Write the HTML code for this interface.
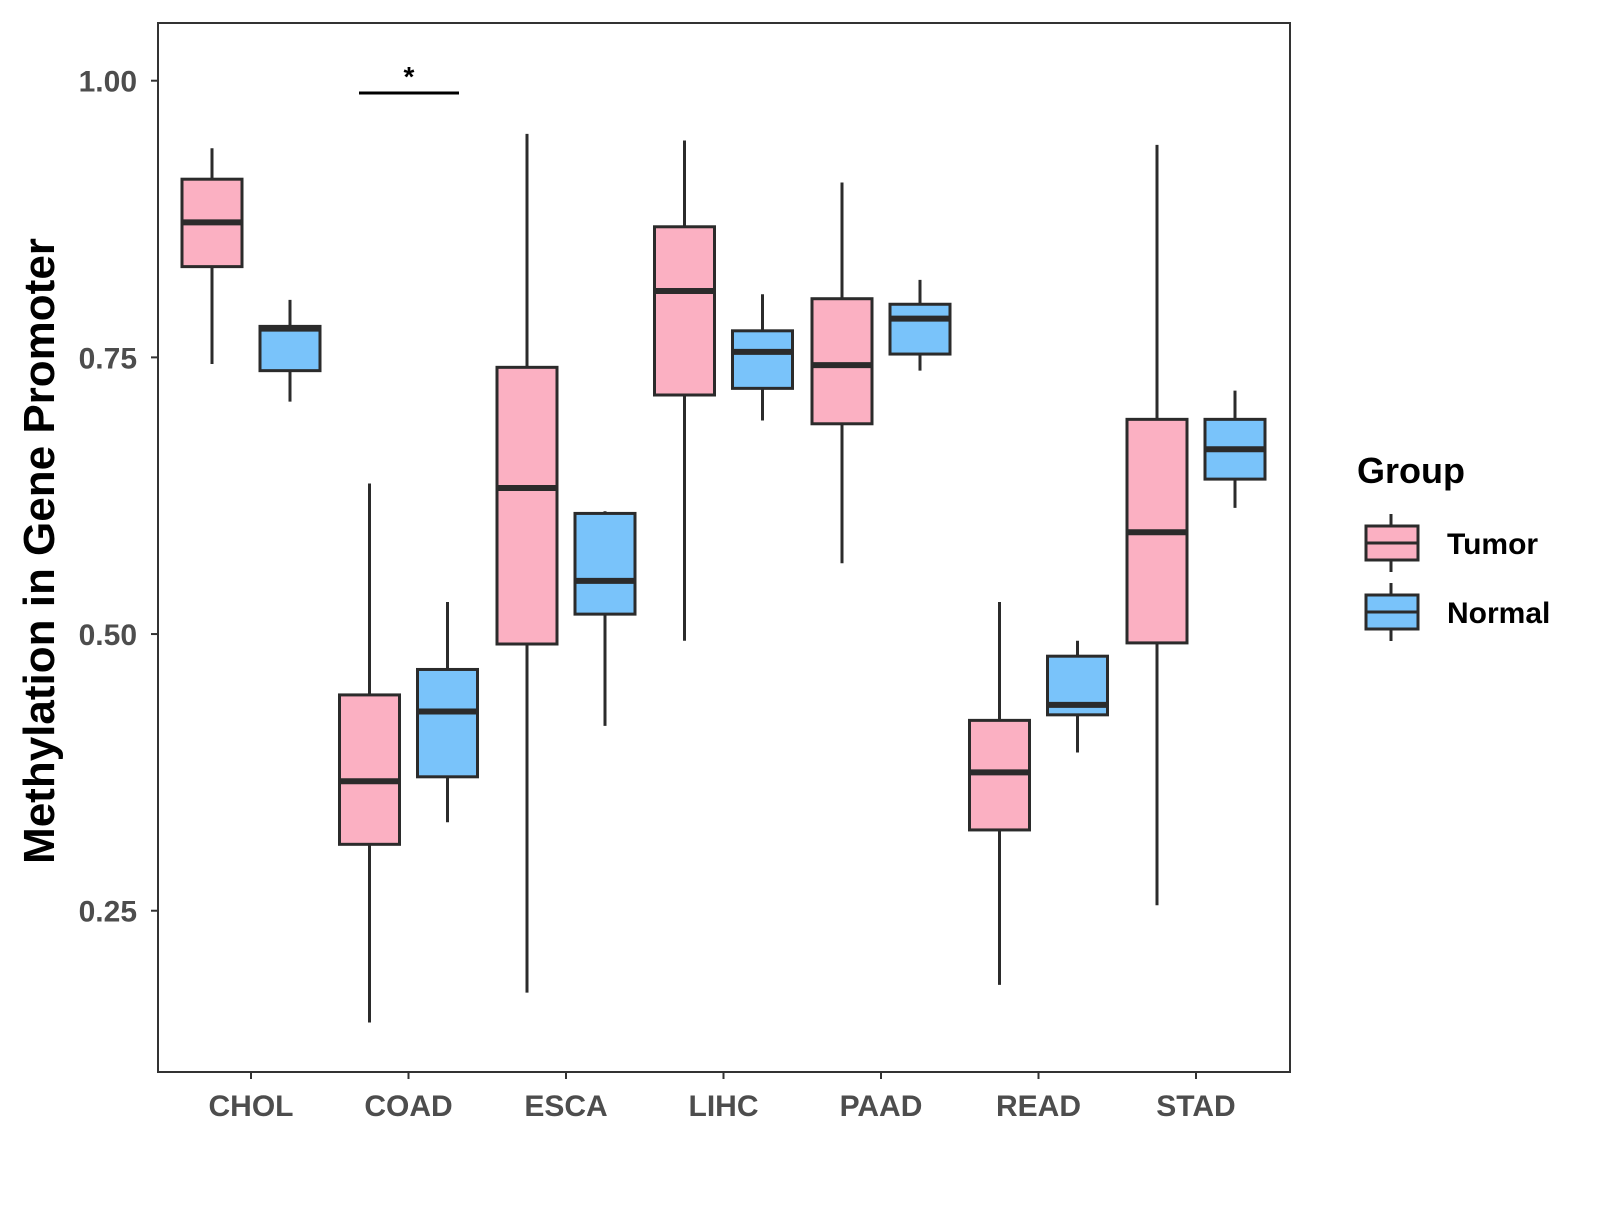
<!DOCTYPE html>
<html><head><meta charset="utf-8"><style>
body{margin:0;background:#fff}
text{font-family:"Liberation Sans",Arial,sans-serif;font-weight:bold}
</style></head><body>
<svg id="chart" width="1600" height="1200" xmlns="http://www.w3.org/2000/svg">
<rect x="0" y="0" width="1600" height="1200" fill="#fff"/>
<g id="plot"></g>
<rect x="158" y="23" width="1132" height="1049" fill="none" stroke="#333" stroke-width="2"/>
<text transform="translate(54,551) rotate(-90)" text-anchor="middle" font-size="44" fill="#000">Methylation in Gene Promoter</text>
<g>
<line x1="359" y1="93" x2="459" y2="93" stroke="#000" stroke-width="3"/>
<text x="409" y="86" text-anchor="middle" font-size="28" fill="#000">*</text>
</g>
<g>
<text x="1357" y="483" font-size="36" fill="#000">Group</text>
<g>
<line x1="1391" y1="514" x2="1391" y2="572" stroke="#2b2b2b" stroke-width="3"/>
<rect x="1366" y="526" width="52" height="34" fill="#fbb0c2" stroke="#2b2b2b" stroke-width="3"/>
<line x1="1366" y1="543" x2="1418" y2="543" stroke="#2b2b2b" stroke-width="3"/>
<text x="1447" y="554" font-size="30" fill="#000">Tumor</text>
</g>
<g>
<line x1="1391" y1="583" x2="1391" y2="641" stroke="#2b2b2b" stroke-width="3"/>
<rect x="1366" y="595" width="52" height="34" fill="#79c3fa" stroke="#2b2b2b" stroke-width="3"/>
<line x1="1366" y1="612" x2="1418" y2="612" stroke="#2b2b2b" stroke-width="3"/>
<text x="1447" y="623" font-size="30" fill="#000">Normal</text>
</g>
</g>
</svg>
<script>
const categories = ["CHOL","COAD","ESCA","LIHC","PAAD","READ","STAD"];
const groups = ["Tumor","Normal"];
// [low, q1, median, q3, high] per category
const tumorStats = [
 [0.744,0.832,0.872,0.911,0.939],
 [0.149,0.310,0.367,0.445,0.636],
 [0.176,0.491,0.632,0.741,0.952],
 [0.494,0.716,0.810,0.868,0.946],
 [0.564,0.690,0.743,0.803,0.908],
 [0.183,0.323,0.375,0.422,0.529],
 [0.255,0.492,0.592,0.694,0.942]
];
const normalStats = [
 [0.710,0.738,0.776,0.778,0.802],
 [0.330,0.371,0.430,0.468,0.529],
 [0.417,0.518,0.548,0.609,0.611],
 [0.693,0.722,0.755,0.774,0.807],
 [0.738,0.753,0.785,0.798,0.820],
 [0.393,0.427,0.436,0.480,0.494],
 [0.614,0.640,0.667,0.694,0.720]
];
const yTicks = [0.25,0.50,0.75,1.00];
const yTickLabels = ["0.25","0.50","0.75","1.00"];

const NS="http://www.w3.org/2000/svg";
const g=document.getElementById('plot');
function yScale(v){return 80.7+(1-v)*1106.7;}
function xScale(i){return 251+i*157.5;}
function mk(tag,attrs){const e=document.createElementNS(NS,tag);for(const k in attrs)e.setAttribute(k,attrs[k]);g.appendChild(e);return e;}

yTicks.forEach((t,i)=>{
 const y=yScale(t);
 const tk=mk('line',{x1:151,y1:y,x2:158,y2:y,stroke:'#333','stroke-width':2});
 
 
 const tx=mk('text',{x:137,y:y+11,'text-anchor':'end','font-size':30,fill:'#4d4d4d'});
 tx.textContent=yTickLabels[i];
 
 
});
categories.forEach((c,i)=>{
 const x=xScale(i);
 const tk=mk('line',{x1:x,y1:1072,x2:x,y2:1079,stroke:'#333','stroke-width':2});
 
 
 const tx=mk('text',{x:x,y:1116,'text-anchor':'middle','font-size':30,fill:'#4d4d4d'});
 tx.textContent=c;
 
 
});
function drawBox(s,cx,fill,name){
 const hw=30;
 const w=mk('line',{x1:cx,y1:yScale(s[4]),x2:cx,y2:yScale(s[0]),stroke:'#2b2b2b','stroke-width':3});
 
 
 const r=mk('rect',{x:cx-hw,y:yScale(s[3]),width:2*hw,height:yScale(s[1])-yScale(s[3]),fill:fill,stroke:'#2b2b2b','stroke-width':3});
 
 
 const m=mk('line',{x1:cx-hw,y1:yScale(s[2]),x2:cx+hw,y2:yScale(s[2]),stroke:'#2b2b2b','stroke-width':6});
 
 
}
categories.forEach((c,i)=>{
 drawBox(tumorStats[i],xScale(i)-39,'#fbb0c2',c.toLowerCase()+'-tumor');
 drawBox(normalStats[i],xScale(i)+39,'#79c3fa',c.toLowerCase()+'-normal');
});
</script>
</body></html>
